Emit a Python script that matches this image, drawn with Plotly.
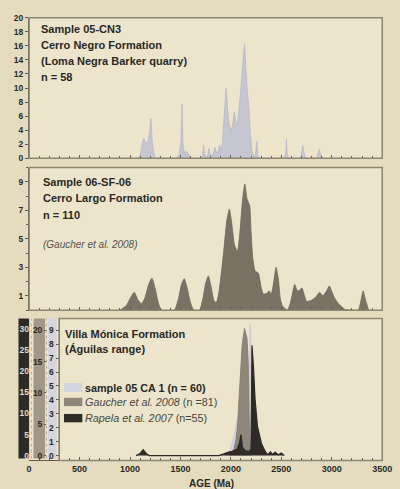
import plotly.graph_objects as go

W, H = 400, 489


def px(x):
    return x / W


def py(y):
    return 1 - y / H


# ---------------- data ----------------
# Panel 1: Sample 05-CN3, Cerro Negro Formation (probability, 0-20 scale)
cn3_age = [1090, 1110, 1125, 1138, 1155, 1175, 1192, 1208, 1222, 1240, 1255,
           1460, 1490, 1505, 1515, 1525, 1540, 1560, 1580, 1600,
           1700, 1718, 1729, 1740, 1770, 1783, 1795, 1825, 1841, 1855, 1875, 1889,
           1905, 1917, 1935, 1953, 1975, 2001, 2020, 2033, 2048, 2065, 2090, 2112,
           2135, 2160, 2176, 2192, 2208, 2225, 2243, 2256, 2268, 2285,
           2530, 2545, 2550, 2556, 2570,
           2690, 2705, 2713, 2725, 2740,
           2850, 2868, 2876, 2890, 2910]
cn3_prob = [0, 1.0, 2.4, 2.8, 2.2, 2.1, 3.6, 5.7, 2.0, 0.5, 0,
            0, 0.6, 2.5, 7.7, 2.0, 0.8, 1.0, 0.6, 0,
            0, 0.3, 1.9, 0.3, 0.3, 1.4, 0.4, 0.5, 1.6, 0.8, 1.0, 1.9,
            1.2, 2.2, 6.3, 10.0, 5.5, 3.75, 5.0, 6.5, 5.2, 4.9, 8.4, 12.5,
            16.3, 10.0, 7.5, 3.75, 1.1, 0.3, 0.3, 2.4, 0.3, 0,
            0, 0.8, 2.7, 0.8, 0,
            0, 1.0, 1.8, 0.8, 0,
            0, 0.8, 1.3, 0.6, 0]

# Panel 2: Sample 06-SF-06, Cerro Largo Formation (0-10 scale)
sf06_age = [900, 962, 1000, 1042, 1080, 1115, 1150, 1185, 1218, 1250, 1285, 1313,
            1440, 1480, 1510, 1537, 1565, 1600, 1633,
            1690, 1725, 1750, 1777, 1805, 1835, 1857, 1880, 1905, 1930, 1960, 1985,
            2010, 2035, 2065, 2090, 2115, 2138, 2160, 2186, 2200, 2215, 2240, 2272,
            2300, 2320, 2350, 2380, 2400, 2425, 2448, 2470, 2490, 2510, 2560, 2590,
            2633, 2655, 2672, 2704, 2730, 2752, 2800, 2840, 2880, 2911, 2945, 2976,
            3000, 3024, 3060, 3088, 3130, 3200, 3263, 3290, 3311, 3335, 3365]
sf06_prob = [0, 0.3, 0.8, 1.25, 0.7, 0.45, 0.9, 1.8, 2.25, 1.5, 0.4, 0,
             0, 0.8, 1.8, 2.2, 1.6, 0.5, 0,
             0, 0.9, 1.9, 2.4, 1.6, 0.6, 0.55, 1.2, 2.6, 4.2, 6.3, 7.1,
             6.0, 4.6, 4.1, 5.5, 7.7, 8.85, 7.8, 7.35, 5.5, 3.8, 2.75, 2.6,
             1.6, 1.15, 1.15, 1.35, 1.1, 2.0, 3.0, 2.2, 0.8, 0.3, 0, 0.5,
             1.8, 1.4, 1.35, 1.55, 1.0, 0.6, 0.7, 0.9, 1.25, 1.0, 1.3, 1.7,
             1.3, 0.9, 0.5, 0.3, 0.05, 0, 0, 0.7, 1.35, 0.7, 0]

# Panel 3: Villa Mónica Formation
# sample 05 CA 1 (n = 60), 0-9 scale
ca1_age = [1940, 1970, 2000, 2035, 2060, 2090, 2120, 2150, 2175, 2183, 2192,
           2200, 2210, 2230, 2260, 2290, 2320, 2345, 2370]
ca1_prob = [0, 0.1, 0.6, 1.5, 2.5, 2.8, 2.6, 2.2, 2.4, 5.0, 9.4,
            6.0, 2.0, 1.0, 0.8, 0.7, 0.5, 0.15, 0]
# Gaucher et al. 2008 (n = 81), 0-20 scale
gau_age = [1990, 2030, 2050, 2065, 2080, 2097, 2112, 2135, 2160, 2172, 2178,
           2181, 2186, 2195]
gau_prob = [0, 1.0, 2.5, 4.7, 8.9, 14.0, 17.7, 20.3, 18.7, 15.0, 10.0,
            6.0, 1.1, 0]
# Rapela et al. 2007 (n = 55), 0-30 scale
rap_age = [1060, 1100, 1130, 1160, 1190,
           1880, 1930, 1970, 2010, 2060, 2085, 2100, 2115, 2140, 2180, 2198,
           2204, 2209, 2224, 2240, 2263, 2304, 2336, 2360, 2375, 2392, 2410,
           2440, 2470, 2500, 2530]
rap_prob = [0, 0.5, 1.4, 0.5, 0,
            0, 0.4, 0.8, 1.0, 1.5, 3.0, 5.0, 2.0, 1.2, 1.0, 1.5,
            12.0, 26.2, 21.0, 13.3, 7.0, 2.8, 1.2, 0.3, 0.4, 0.9, 0.3,
            0.8, 0.2, 0.6, 0]

# ticks
x_ticks = [0, 500, 1000, 1500, 2000, 2500, 3000, 3500]
x_ticktext = ["0", "500", "1000", "1500", "2000", "2500", "3000", "3500"]
p1_yticks = [0, 2, 4, 6, 8, 10, 12, 14, 16, 18, 20]
p2_yticks = [1, 3, 5, 7, 9]
ca1_yticks = [0, 1, 2, 3, 4, 5, 6, 7, 8, 9]
gau_yticks = [0, 5, 10, 15, 20]
rap_yticks = [0, 5, 10, 15, 20, 25, 30]

# ---------------- style ----------------
FONT = "Liberation Sans, Arial, sans-serif"
TXT = "#2a2825"
PAPER = "#e5dcc0"
PLOTBG = "#ece5cc"
BORDER = "#8c8671"
AXIS = "#5f5b50"
TICKSZ = 8.5

C_LIGHT1 = "#c5c6d2"
C_SF = "#7a7265"
C_CA1 = "#d3d4df"
C_GAU = "#8d887b"
C_RAP = "#2e2b27"

fig = go.Figure()

fig.add_trace(go.Scatter(x=cn3_age, y=cn3_prob, xaxis="x", yaxis="y", mode="lines",
                         fill="tozeroy", fillcolor=C_LIGHT1,
                         line=dict(color="#b7b8c6", width=0.8), showlegend=False,
                         hoverinfo="skip"))
fig.add_trace(go.Scatter(x=sf06_age, y=sf06_prob, xaxis="x2", yaxis="y2", mode="lines",
                         fill="tozeroy", fillcolor=C_SF,
                         line=dict(color="#6e675a", width=0.8, shape="spline", smoothing=0.5),
                         showlegend=False, hoverinfo="skip"))
fig.add_trace(go.Scatter(x=gau_age, y=gau_prob, xaxis="x3", yaxis="y4", mode="lines",
                         fill="tozeroy", fillcolor=C_GAU,
                         line=dict(color="#7d786c", width=0.8), showlegend=False,
                         hoverinfo="skip"))
fig.add_trace(go.Scatter(x=rap_age, y=rap_prob, xaxis="x3", yaxis="y5", mode="lines",
                         fill="tozeroy", fillcolor=C_RAP,
                         line=dict(color=C_RAP, width=1.2), showlegend=False,
                         hoverinfo="skip"))
fig.add_trace(go.Scatter(x=ca1_age, y=ca1_prob, xaxis="x3", yaxis="y3", mode="lines",
                         fill="tozeroy", fillcolor=C_CA1,
                         line=dict(color="#c4c5d2", width=0.8), showlegend=False,
                         hoverinfo="skip"))

xdom = [px(27), px(392)]
xcommon = dict(domain=xdom, range=[0, 3500.5], tickmode="array", tickvals=x_ticks,
               ticktext=x_ticktext, ticks="inside",
               ticklen=3, tickcolor=AXIS, showline=True, linecolor=AXIS, linewidth=1.2,
               showgrid=False, zeroline=False,
               minor=dict(dtick=100, ticks="inside", ticklen=2, tickcolor=AXIS, showgrid=False),
               tickfont=dict(family=FONT, size=9, color=TXT, weight="bold"))
ycommon = dict(showgrid=False, zeroline=False, ticks="outside", ticklen=3,
               tickcolor=AXIS, tickfont=dict(family=FONT, size=TICKSZ, color=TXT, weight="bold"))

fig.update_layout(
    width=W, height=H,
    margin=dict(l=0, r=0, t=0, b=0),
    paper_bgcolor=PAPER, plot_bgcolor="rgba(0,0,0,0)",
    font=dict(family=FONT, color=TXT),
    xaxis=dict(anchor="y", showticklabels=False, **xcommon),
    xaxis2=dict(anchor="y2", showticklabels=False, **xcommon),
    xaxis3=dict(anchor="y3", showticklabels=True, **xcommon),
    yaxis=dict(domain=[py(156.5), py(13)], range=[0, 20], tickvals=p1_yticks,
               showline=True, linecolor=AXIS, linewidth=1.2, **ycommon),
    yaxis2=dict(domain=[py(311.5), py(166)], range=[0, 10], tickvals=p2_yticks,
                showline=True, linecolor=AXIS, linewidth=1.2,
                minor=dict(dtick=1, ticks="outside", ticklen=2, tickcolor=AXIS, showgrid=False),
                **ycommon),
    yaxis3=dict(domain=[py(465), py(320)], range=[-0.35, 9.85], tickvals=ca1_yticks,
                anchor="free", position=px(57.5), side="left",
                showline=True, linecolor=AXIS, linewidth=1.2, **ycommon),
    yaxis4=dict(overlaying="y3", range=[-0.78, 21.875], tickvals=gau_yticks,
                anchor="free", position=px(44.5), side="left", showline=False,
                showgrid=False, zeroline=False, ticks="outside", ticklen=2, tickcolor=AXIS,
                tickfont=dict(family=FONT, size=TICKSZ, color=TXT, weight="bold")),
    yaxis5=dict(overlaying="y3", range=[-1.163, 32.56], tickvals=rap_yticks,
                anchor="free", position=px(28), side="left", showline=False,
                showgrid=False, zeroline=False, ticks="", ticklabelstandoff=1,
                tickfont=dict(family=FONT, size=TICKSZ, color="#e3dccb", weight="bold")),
)
fig.update_xaxes(ticklabeloverflow="allow")

shapes = []
# panel backgrounds
for (x0, y0, x1, y1) in [(27, 13, 392, 156.5), (27, 166, 392, 311.5), (27, 320, 392, 465)]:
    shapes.append(dict(type="rect", xref="paper", yref="paper", layer="below",
                       x0=px(x0), x1=px(x1), y0=py(y1), y1=py(y0),
                       fillcolor=PLOTBG, line=dict(width=0)))
# scale bars in panel 3
for (x0, x1, col) in [(16, 27, C_RAP), (31.5, 43.5, "#9f9987"), (46.5, 55.5, "#d6d5dd")]:
    shapes.append(dict(type="rect", xref="paper", yref="paper", layer="below",
                       x0=px(x0), x1=px(x1), y0=py(463), y1=py(320),
                       fillcolor=col, line=dict(width=0)))
for xx in [29.3, 45.0]:
    shapes.append(dict(type="line", xref="paper", yref="paper", layer="below",
                       x0=px(xx), x1=px(xx), y0=py(463), y1=py(320),
                       line=dict(color="#b3ab94", width=1, dash="dot")))
# panel borders
for (x0, y0, x1, y1) in [(27, 13, 392, 156.5), (27, 166, 392, 311.5), (58, 320, 392, 465)]:
    shapes.append(dict(type="rect", xref="paper", yref="paper", layer="above",
                       x0=px(x0), x1=px(x1), y0=py(y1), y1=py(y0),
                       fillcolor="rgba(0,0,0,0)", line=dict(color=BORDER, width=1.5)))
# legend swatches
for (y0, y1, col) in [(386, 395, C_CA1), (401, 409.5, C_GAU), (417.5, 426, C_RAP)]:
    shapes.append(dict(type="rect", xref="paper", yref="paper", layer="above",
                       x0=px(63), x1=px(82), y0=py(y1), y1=py(y0),
                       fillcolor=col, line=dict(width=0)))
fig.update_layout(shapes=shapes)

ann = []


def label(x, y, text, size=11, color=TXT):
    ann.append(dict(xref="paper", yref="paper", x=px(x), y=py(y), text=text,
                    showarrow=False, xanchor="left", yanchor="middle",
                    font=dict(family=FONT, size=size, color=color)))


label(37, 25, "<b>Sample 05-CN3</b>")
label(37, 41, "<b>Cerro Negro Formation</b>")
label(37, 57, "<b>(Loma Negra Barker quarry)</b>")
label(37, 73, "<b>n = 58</b>")

label(39, 181, "<b>Sample 06-SF-06</b>")
label(39, 197.5, "<b>Cerro Largo Formation</b>")
label(39, 214, "<b>n = 110</b>")
label(39, 245, "<i>(Gaucher et al. 2008)</i>", size=10, color="#55524b")

label(62, 336, "<b>Villa Mónica Formation</b>")
label(62, 351.5, "<b>(Águilas range)</b>")

label(83, 391, "<b>sample 05 CA 1 (n = 60)</b>", size=10.8)
label(83, 405.5, "<i>Gaucher et al. 2008</i> (n =81)", size=10.8, color="#4a4740")
label(83, 422, "<i>Rapela et al. 2007</i> (n=55)", size=10.8, color="#4a4740")

ann.append(dict(xref="paper", yref="paper", x=px(190), y=py(481), text="<b>AGE (Ma)</b>",
                showarrow=False, xanchor="left", yanchor="top",
                font=dict(family=FONT, size=10, color=TXT)))
fig.update_layout(annotations=ann)

fig.write_html("out.html", config={"displayModeBar": False},
               post_script="document.body.style.margin='0';")
